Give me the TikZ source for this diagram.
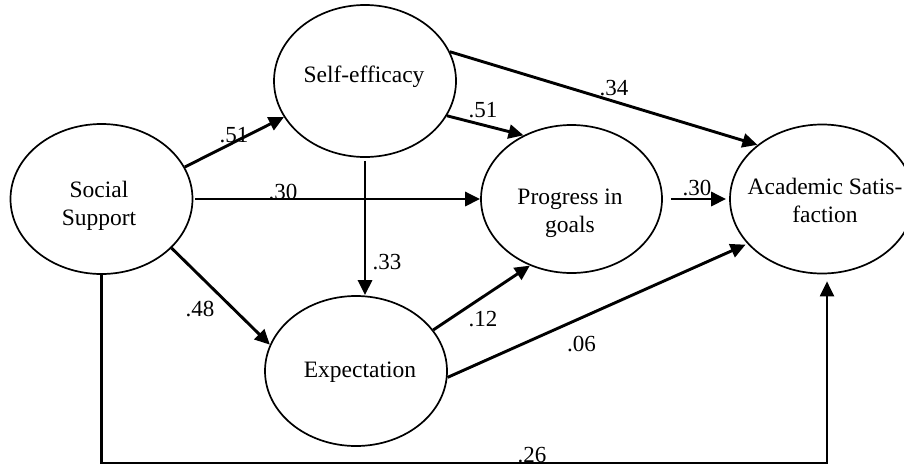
\documentclass[tikz,border=0pt]{standalone}
\usepackage{fontspec}
\setmainfont{Liberation Serif}
\usetikzlibrary{shapes.geometric,arrows.meta}
\begin{document}
\begin{tikzpicture}[x=1pt,y=-1pt,
  every node/.style={font=\fontsize{23.5}{28}\selectfont},
  var/.style={draw, ellipse, line width=1.7pt, inner sep=0pt, minimum width=182pt, minimum height=150pt},
  txt/.style={align=center, inner sep=0pt, anchor=base},
  lbl/.style={inner sep=0pt, anchor=base, font=\fontsize{23}{28}\selectfont},
  arr/.style={line width=2.9pt, -{Triangle[length=15pt,width=14pt]}},
  longpath/.style={line width=2.2pt, -{Triangle[length=15pt,width=14pt]}}]
\useasboundingbox (0,0) rectangle (904,466);
\clip (0,0) rectangle (904,466);
\fill[white] (0,0) rectangle (904,466);
% variables
\node[var] (ss) at (101.5,199) {};
\node[var, minimum height=152pt] (se) at (365,81) {};
\node[var, minimum width=181pt, minimum height=148pt] (pg) at (571.5,199) {};
\node[var, minimum width=184pt, minimum height=149pt] (as) at (822,199) {};
\node[var] (ex) at (356,371) {};
% texts (base anchor = last line)
\node[txt] (ssT) at (99,225) {Social\\Support};
\node[txt] (seT) at (364,82) {Self-efficacy};
\node[txt] (pgT) at (570,232) {Progress in\\goals};
\node[txt] (asT) at (825,222) {Academic Satis-\\faction};
\node[txt] (exT) at (360,377) {Expectation};
% connectors
\draw[arr] (ss.21) -- (se.204);
\draw[arr, shorten <=2pt] (ss.east) -- (pg.west);
\draw[arr] (ss.-35) -- (ex.163);
\draw[arr, shorten <=3pt] (se.south) -- (se.south |- ex.north);
\draw[arr] (se.-23) -- (pg.127);
\draw[arr] (se.19) -- (as.140);
\draw[arr, shorten <=8pt, shorten >=3pt] (pg.east) -- (as.west);
\draw[arr] (ex.28) -- (pg.238);
\draw[arr, shorten >=2pt] (ex.-4) -- (as.211);
\coordinate (botR) at (827,463);
\draw[longpath, shorten >=7pt] (ss.south) -- (ss.south |- botR) -- (botR) -- (botR |- as.south);
% labels
\node[lbl] (l1) at (234,142) {.51};
\node[lbl] (l2) at (283,199) {.30};
\node[lbl] (l3) at (200,316) {.48};
\node[lbl] (l4) at (387,269) {.33};
\node[lbl] (l5) at (483,117) {.51};
\node[lbl] (l6) at (614,95) {.34};
\node[lbl] (l7) at (697,195) {.30};
\node[lbl] (l8) at (483,326) {.12};
\node[lbl] (l9) at (581.5,351) {.06};
\node[lbl] (l10) at (532,462) {.26};
\end{tikzpicture}
\end{document}
